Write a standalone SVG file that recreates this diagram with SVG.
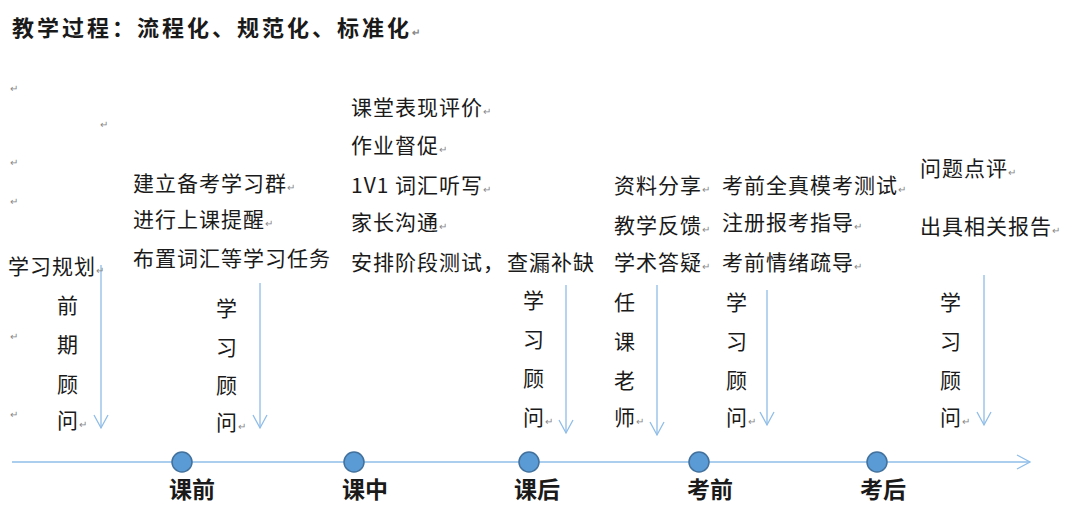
<svg xmlns="http://www.w3.org/2000/svg" width="1080" height="514" viewBox="0 0 1080 514">
<style>
text{font-family:"Noto Sans CJK SC","Liberation Sans",sans-serif;fill:#1a1a1a}
.t{font-size:21px;letter-spacing:1px}
.h{font-size:22px;font-weight:bold;letter-spacing:3px}
.b{font-size:23px;font-weight:bold}
.m{font-size:10px;fill:#888;letter-spacing:0}
.ar{stroke:#8fbde8;stroke-width:1.3;fill:none}
.dot{fill:#5b9bd5;stroke:#41719c;stroke-width:1.5}
</style>
<defs><marker id="v" markerWidth="16" markerHeight="16" refX="14" refY="8" orient="auto" markerUnits="userSpaceOnUse"><path d="M1,1 L14,8 L1,15" fill="none" stroke="#8fbde8" stroke-width="1.3"/></marker></defs>
<rect width="1080" height="514" fill="#fff"/>
<text class="h" x="12" y="36">教学过程：流程化、规范化、标准化<tspan class="m">↵</tspan></text>
<g id="marks">
<text class="m" x="10" y="92">↵</text><text class="m" x="100" y="128">↵</text><text class="m" x="10" y="166">↵</text><text class="m" x="10" y="205">↵</text><text class="m" x="10" y="340">↵</text><text class="m" x="10" y="418">↵</text>
</g>
<g id="connectors">
<line class="ar" x1="12" y1="462" x2="1030" y2="462" marker-end="url(#v)"/>
<line class="ar" x1="101" y1="265" x2="101" y2="428" marker-end="url(#v)"/>
<line class="ar" x1="260" y1="283" x2="260" y2="428" marker-end="url(#v)"/>
<line class="ar" x1="566" y1="285" x2="566" y2="433" marker-end="url(#v)"/>
<line class="ar" x1="657" y1="285" x2="657" y2="435" marker-end="url(#v)"/>
<line class="ar" x1="767" y1="290" x2="767" y2="425" marker-end="url(#v)"/>
<line class="ar" x1="984" y1="275" x2="984" y2="425" marker-end="url(#v)"/>
</g>
<g id="n1">
<text class="t" x="8" y="274">学习规划<tspan class="m">↵</tspan></text>
<text class="t" x="57" y="313">前</text><text class="t" x="57" y="352">期</text><text class="t" x="57" y="392">顾</text><text class="t" x="57" y="428">问<tspan class="m">↵</tspan></text>
</g>
<g id="n2">
<text class="t" x="133" y="191">建立备考学习群<tspan class="m">↵</tspan></text>
<text class="t" x="133" y="227">进行上课提醒<tspan class="m">↵</tspan></text>
<text class="t" x="133" y="266">布置词汇等学习任务</text>
<text class="t" x="216" y="316">学</text><text class="t" x="216" y="355">习</text><text class="t" x="216" y="393">顾</text><text class="t" x="216" y="430">问<tspan class="m">↵</tspan></text>
</g>
<g id="n3">
<text class="t" x="351" y="115">课堂表现评价<tspan class="m">↵</tspan></text>
<text class="t" x="351" y="153">作业督促<tspan class="m">↵</tspan></text>
<text class="t" x="351" y="193">1V1 词汇听写<tspan class="m">↵</tspan></text>
<text class="t" x="351" y="230">家长沟通<tspan class="m">↵</tspan></text>
<text class="t" x="351" y="270">安排阶段测试，</text>
</g>
<g id="n4">
<text class="t" x="507" y="270">查漏补缺</text>
<text class="t" x="523" y="308">学</text><text class="t" x="523" y="347">习</text><text class="t" x="523" y="386">顾</text><text class="t" x="523" y="425">问<tspan class="m">↵</tspan></text>
</g>
<g id="n5">
<text class="t" x="614" y="193">资料分享<tspan class="m">↵</tspan></text>
<text class="t" x="614" y="233">教学反馈<tspan class="m">↵</tspan></text>
<text class="t" x="614" y="270">学术答疑<tspan class="m">↵</tspan></text>
<text class="t" x="614" y="310">任</text><text class="t" x="614" y="349">课</text><text class="t" x="614" y="388">老</text><text class="t" x="614" y="425">师<tspan class="m">↵</tspan></text>
</g>
<g id="n6">
<text class="t" x="722" y="193">考前全真模考测试<tspan class="m">↵</tspan></text>
<text class="t" x="722" y="230">注册报考指导<tspan class="m">↵</tspan></text>
<text class="t" x="722" y="270">考前情绪疏导<tspan class="m">↵</tspan></text>
<text class="t" x="726" y="310">学</text><text class="t" x="726" y="349">习</text><text class="t" x="726" y="388">顾</text><text class="t" x="726" y="425">问<tspan class="m">↵</tspan></text>
</g>
<g id="n7">
<text class="t" x="920" y="176">问题点评<tspan class="m">↵</tspan></text>
<text class="t" x="920" y="234">出具相关报告<tspan class="m">↵</tspan></text>
<text class="t" x="940" y="310">学</text><text class="t" x="940" y="349">习</text><text class="t" x="940" y="388">顾</text><text class="t" x="940" y="425">问<tspan class="m">↵</tspan></text>
</g>
<g id="timeline">
<circle class="dot" cx="182" cy="462" r="10"/><circle class="dot" cx="354" cy="462" r="10"/><circle class="dot" cx="529" cy="462" r="10"/><circle class="dot" cx="699" cy="462" r="10"/><circle class="dot" cx="877" cy="462" r="10"/>
<text class="b" x="192" y="498" text-anchor="middle">课前</text>
<text class="b" x="365" y="498" text-anchor="middle">课中</text>
<text class="b" x="537" y="498" text-anchor="middle">课后</text>
<text class="b" x="710" y="498" text-anchor="middle">考前</text>
<text class="b" x="883" y="498" text-anchor="middle">考后</text>
</g>
</svg>
